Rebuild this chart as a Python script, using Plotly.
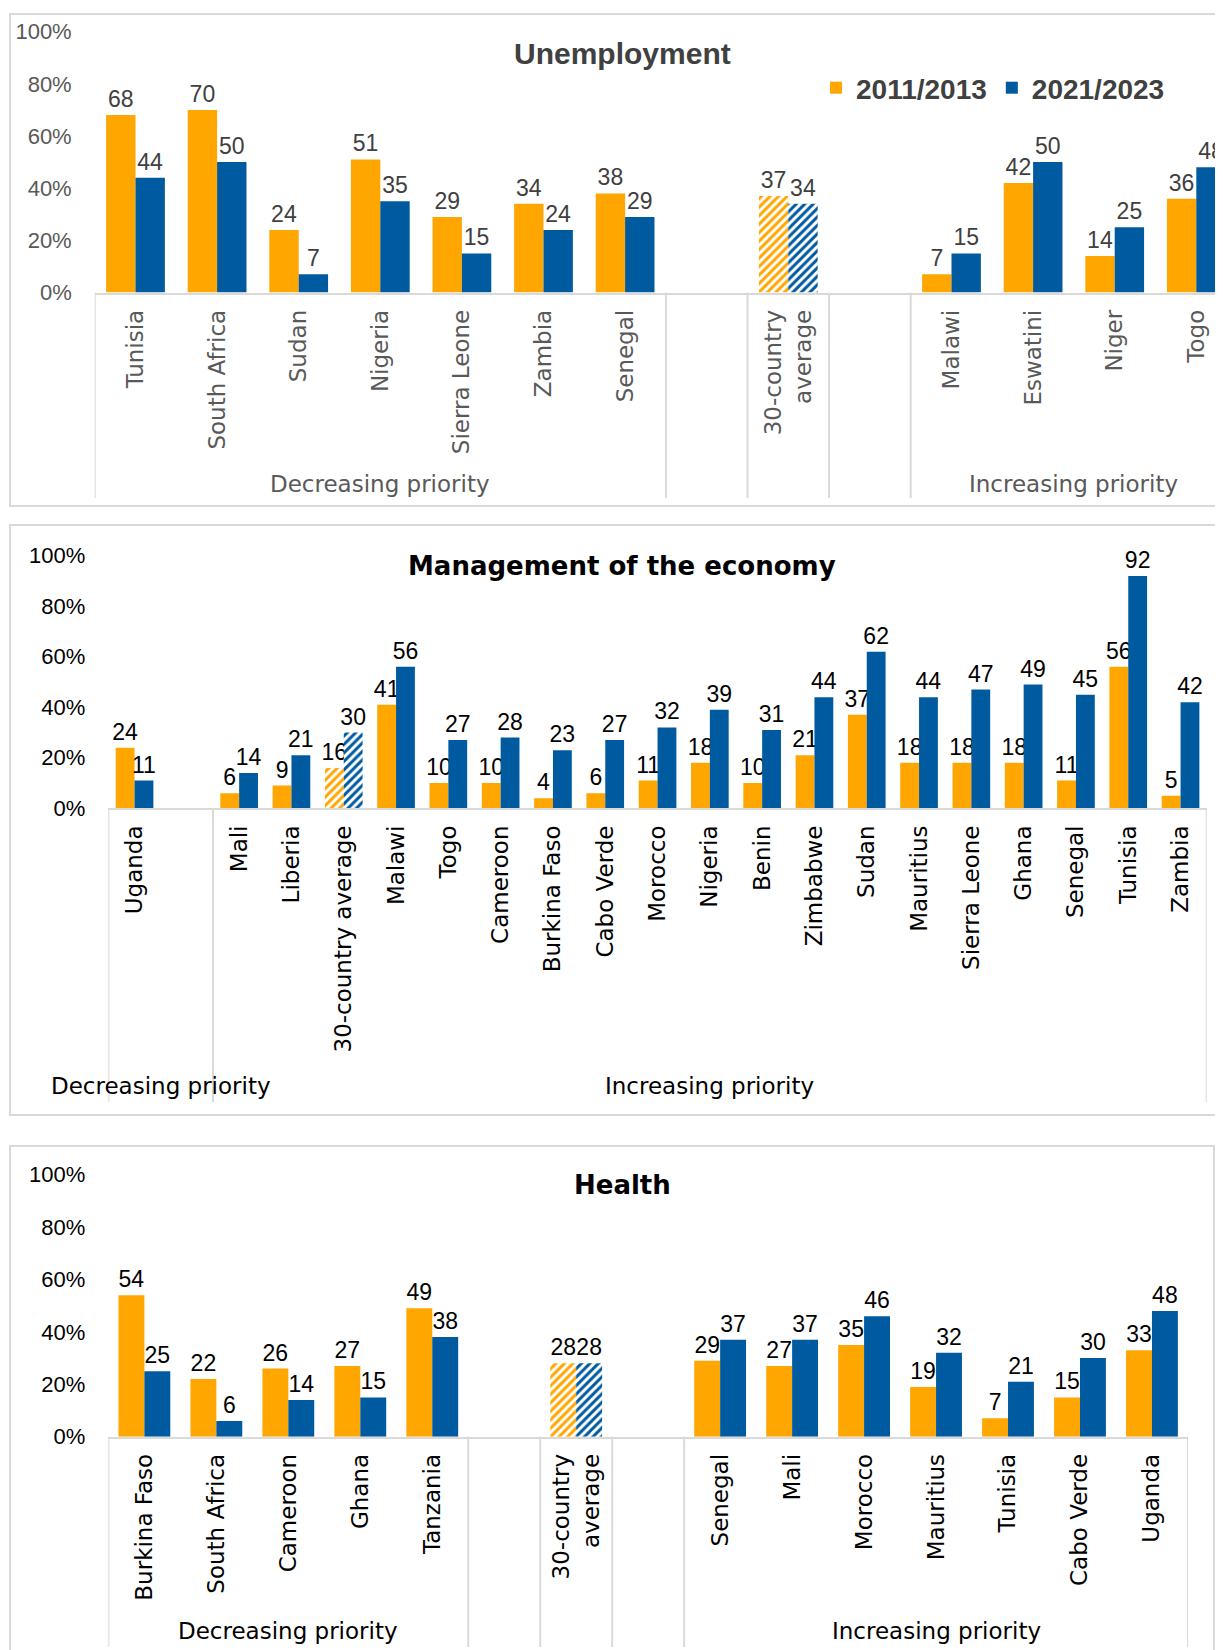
import plotly.graph_objects as go

# page is 1223x1650, the html body has an 8px margin
PAGE_W, PAGE_H = 1223, 1650
OFF = 8
W, H = PAGE_W - OFF, PAGE_H - OFF
ORANGE = "#FFA600"
BLUE = "#005AA0"
FRAME = "#D9D9D9"

# ---- data ----
unemp_cats = ["Tunisia", "South Africa", "Sudan", "Nigeria", "Sierra Leone", "Zambia", "Senegal",
              "", "30-country<br>average", "", "Malawi", "Eswatini", "Niger", "Togo"]
unemp_2011 = [68, 70, 24, 51, 29, 34, 38, None, 37, None, 7, 42, 14, 36]
unemp_2021 = [44, 50, 7, 35, 15, 24, 29, None, 34, None, 15, 50, 25, 48]
unemp_groups = [("Decreasing priority", 0, 6), ("", 7, 7), ("", 8, 8), ("", 9, 9), ("Increasing priority", 10, 13)]

econ_cats = ["Uganda", "", "Mali", "Liberia", "30-country average", "Malawi", "Togo", "Cameroon",
             "Burkina Faso", "Cabo Verde", "Morocco", "Nigeria", "Benin", "Zimbabwe", "Sudan",
             "Mauritius", "Sierra Leone", "Ghana", "Senegal", "Tunisia", "Zambia"]
econ_2011 = [24, None, 6, 9, 16, 41, 10, 10, 4, 6, 11, 18, 10, 21, 37, 18, 18, 18, 11, 56, 5]
econ_2021 = [11, None, 14, 21, 30, 56, 27, 28, 23, 27, 32, 39, 31, 44, 62, 44, 47, 49, 45, 92, 42]
econ_groups = [("Decreasing priority", 0, 1), ("Increasing priority", 2, 20)]

health_cats = ["Burkina Faso", "South Africa", "Cameroon", "Ghana", "Tanzania", "", "30-country<br>average", "",
               "Senegal", "Mali", "Morocco", "Mauritius", "Tunisia", "Cabo Verde", "Uganda"]
health_2011 = [54, 22, 26, 27, 49, None, 28, None, 29, 27, 35, 19, 7, 15, 33]
health_2021 = [25, 6, 14, 15, 38, None, 28, None, 37, 37, 46, 32, 21, 30, 48]
health_groups = [("Decreasing priority", 0, 4), ("", 5, 5), ("", 6, 6), ("", 7, 7), ("Increasing priority", 8, 14)]

y_ticks = [0, 20, 40, 60, 80, 100]
series_names = ["2011/2013", "2021/2023"]


def px_x(x):
    return (x - OFF) / W


def px_y(y):
    return 1 - (y - OFF) / H


# layout of each panel in page pixels
panels = [
    dict(title="Unemployment", cats=unemp_cats, a=unemp_2011, b=unemp_2021, groups=unemp_groups,
         tcolor="#595959", lcolor="#404040", title_color="#404040",
         title_font="Liberation Sans", title_size=30, title_y=53,
         frame=(10, 14, PAGE_W + 20, 506), x0=94.7, cw=81.6, ytop=31.6, ybot=292.6,
         group_y=484, sep_bot=498),
    dict(title="Management of the economy", cats=econ_cats, a=econ_2011, b=econ_2021, groups=econ_groups,
         tcolor="#000000", lcolor="#000000", title_color="#000000",
         title_font="DejaVu Sans", title_size=26, title_y=566,
         frame=(10, 525, PAGE_W + 20, 1115), x0=108.4, cw=52.3, ytop=555.7, ybot=808.3,
         group_y=1086, sep_bot=1102),
    dict(title="Health", cats=health_cats, a=health_2011, b=health_2021, groups=health_groups,
         tcolor="#000000", lcolor="#000000", title_color="#000000",
         title_font="DejaVu Sans", title_size=26, title_y=1185,
         frame=(10, 1146, 1214, PAGE_H + 20), x0=108.4, cw=71.97, ytop=1174.6, ybot=1436.7,
         group_y=1631, sep_bot=1647),
]

fig = go.Figure()
shapes = []
annotations = []

for i, p in enumerate(panels):
    sfx = "" if i == 0 else str(i + 1)
    n = len(p["cats"])
    xs = list(range(n))
    x_right = min(p["x0"] + n * p["cw"], PAGE_W)
    avg = ["/" if "30-country" in c else "" for c in p["cats"]]

    for vals, col, name in [(p["a"], ORANGE, series_names[0]), (p["b"], BLUE, series_names[1])]:
        fig.add_trace(go.Bar(
            x=xs, y=vals, name="<b>" + name + "</b>",
            xaxis="x" + sfx, yaxis="y" + sfx,
            marker=dict(color=col, line=dict(width=0),
                        pattern=dict(shape=avg, fgcolor=col, bgcolor="white",
                                     size=6, solidity=0.5, fillmode="replace")),
            text=[("" if v is None else str(v)) for v in vals],
            textposition="outside", constraintext="none", cliponaxis=False,
            textfont=dict(family="Liberation Sans", size=23, color=p["lcolor"]),
            showlegend=(i == 0), hoverinfo="skip",
        ))

    fig.update_layout({
        "xaxis" + sfx: dict(
            domain=[px_x(p["x0"]), px_x(x_right)],
            range=[-0.5, -0.5 + (x_right - p["x0"]) / p["cw"]],
            anchor="y" + sfx, tickmode="array", tickvals=xs, ticktext=p["cats"],
            tickangle=-90, ticks="", showline=True, linecolor=FRAME, linewidth=2,
            showgrid=False, zeroline=False, ticklabelstandoff=6, automargin=False,
            tickfont=dict(family="DejaVu Sans", size=23, color=p["tcolor"]),
        ),
        "yaxis" + sfx: dict(
            domain=[px_y(p["ybot"]), px_y(p["ytop"])], range=[0, 100],
            anchor="x" + sfx, tickvals=y_ticks, ticktext=[f"{t}%" for t in y_ticks],
            showgrid=False, zeroline=False, showline=False, ticks="",
            ticklabelstandoff=22, automargin=False,
            tickfont=dict(family="Liberation Sans", size=22, color=p["tcolor"]),
        ),
    })

    # panel frame
    fx0, fy0, fx1, fy1 = p["frame"]
    shapes.append(dict(type="rect", xref="paper", yref="paper",
                       x0=px_x(fx0), x1=px_x(fx1), y0=px_y(fy1), y1=px_y(fy0),
                       line=dict(color=FRAME, width=2), fillcolor="rgba(0,0,0,0)", layer="below"))

    # group separators and labels
    bounds = sorted({g[1] - 0.5 for g in p["groups"]} | {g[2] + 0.5 for g in p["groups"]})
    for b in bounds:
        shapes.append(dict(type="line", xref="x" + sfx, yref="paper", x0=b, x1=b,
                           y0=px_y(p["ybot"]), y1=px_y(p["sep_bot"]),
                           line=dict(color=FRAME, width=2)))
    for label, s, e in p["groups"]:
        if label:
            annotations.append(dict(text=label, xref="x" + sfx, yref="paper", x=(s + e) / 2,
                                    y=px_y(p["group_y"]), xanchor="center", yanchor="middle",
                                    showarrow=False,
                                    font=dict(family="DejaVu Sans", size=23, color=p["tcolor"])))

    annotations.append(dict(text="<b>" + p["title"] + "</b>", xref="paper", yref="paper",
                            x=px_x(622), y=px_y(p["title_y"]), xanchor="center", yanchor="middle",
                            showarrow=False,
                            font=dict(family=p["title_font"], size=p["title_size"], color=p["title_color"])))

fig.update_layout(
    width=W, height=H,
    margin=dict(l=0, r=0, t=0, b=0, autoexpand=False),
    paper_bgcolor="white", plot_bgcolor="white",
    barmode="group", bargap=0.28, bargroupgap=0,
    shapes=shapes, annotations=annotations,
    legend=dict(orientation="h", x=px_x(816), y=px_y(88), xanchor="left", yanchor="middle",
                font=dict(family="Liberation Sans", size=28, color="#404040"),
                bgcolor="rgba(0,0,0,0)", itemsizing="constant"),
)

fig.write_html("out.html")
